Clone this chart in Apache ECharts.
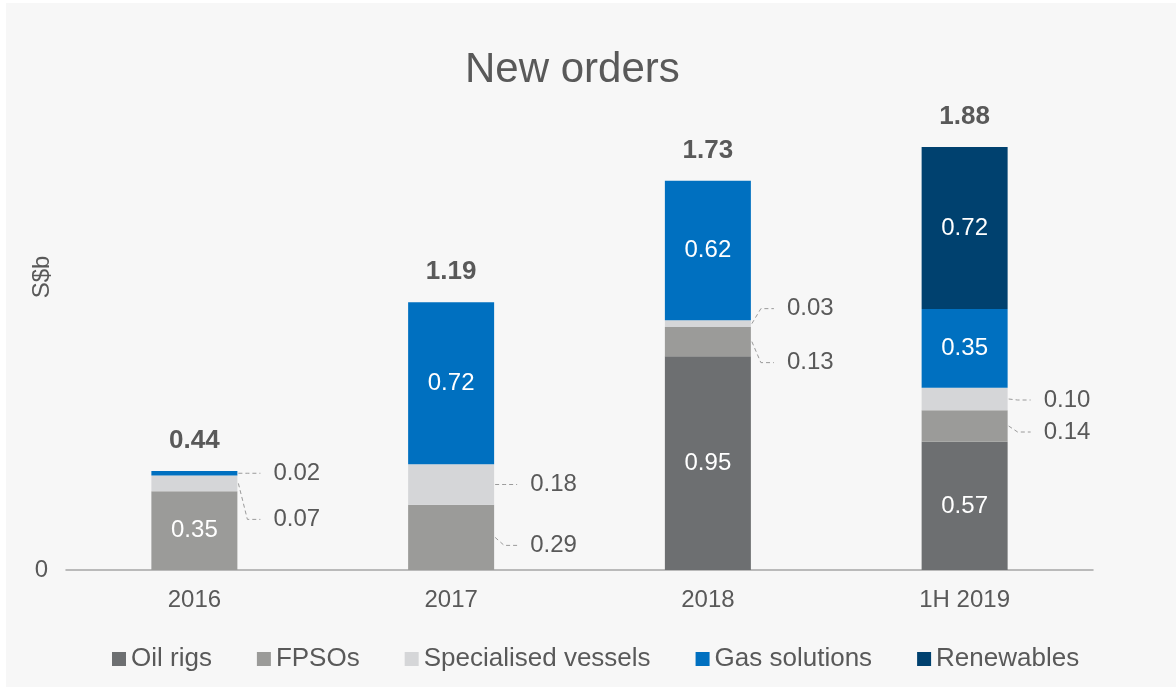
<!DOCTYPE html>
<html>
<head>
<meta charset="utf-8">
<script src="https://cdn.jsdelivr.net/npm/echarts@6/dist/echarts.min.js"></script>
<style>html,body{margin:0;padding:0;background:#fff;}#c{width:1176px;height:689px;}</style>
</head>
<body>
<div id="c"></div>
<script>
// ---- data ----
var categories = ['2016', '2017', '2018', '1H 2019'];
var seriesNames = ['Oil rigs', 'FPSOs', 'Specialised vessels', 'Gas solutions', 'Renewables'];
var oilRigs = [null, null, 0.95, 0.57];
var fpsos = [0.35, 0.29, 0.13, 0.14];
var specialisedVessels = [0.07, 0.18, 0.03, 0.10];
var gasSolutions = [0.02, 0.72, 0.62, 0.35];
var renewables = [null, null, null, 0.72];
var totals = [0.44, 1.19, 1.73, 1.88];

// ---- styling ----
var colors = ['#6d6f71', '#9b9b99', '#d5d6d8', '#0070c0', '#00416f'];
var textColor = '#595959';
var font = "'Liberation Sans', Arial, sans-serif";
var BAR_WIDTH = 86;
// vertical shift (px) of labels placed outside the bar; null = label inside
var outsideShift = [
  [null, null, null, null],
  [null, 8, 21, 6],
  [36, 0, -15, 1],
  [0, null, null, null],
  [null, null, null, null]
];
var allValues = [oilRigs, fpsos, specialisedVessels, gasSolutions, renewables];

function buildData(si) {
  return allValues[si].map(function (v, ci) {
    if (v == null) return '-';
    var inside = outsideShift[si][ci] == null;
    return { value: v, label: { show: inside } };
  });
}

var series = seriesNames.map(function (name, si) {
  return {
    name: name,
    type: 'bar',
    stack: 'orders',
    barWidth: BAR_WIDTH,
    barGap: '-100%',
    itemStyle: { color: colors[si] },
    label: {
      position: 'inside', color: '#fff',
      fontSize: 24, fontFamily: font,
      formatter: function (p) { return p.value.toFixed(2); }
    },
    emphasis: { disabled: true },
    data: buildData(si)
  };
});

// outside labels with dashed leader lines, positioned through the axes
var outsideItems = [];
for (var ci = 0; ci < categories.length; ci++) {
  var base = 0;
  for (var si = 0; si < allValues.length; si++) {
    var v = allValues[si][ci];
    if (v == null) continue;
    if (outsideShift[si][ci] != null) {
      outsideItems.push([ci, base, base + v, outsideShift[si][ci], v]);
    }
    base += v;
  }
}

series.push({
  name: 'outside labels',
  type: 'custom',
  silent: true,
  z: 5,
  data: outsideItems,
  renderItem: function (params, api) {
    var c = api.value(0), lo = api.value(1), hi = api.value(2), shift = api.value(3), val = api.value(4);
    var mid = api.coord([c, (lo + hi) / 2]);
    var right = mid[0] + BAR_WIDTH / 2;
    var ly = mid[1] + shift;
    return {
      type: 'group',
      children: [
        {
          type: 'polyline',
          shape: { points: [[right + 1, mid[1]], [right + 10, ly], [right + 23, ly]] },
          style: { stroke: '#9a9a9a', lineWidth: 1, lineDash: [4, 3], fill: null }
        },
        {
          type: 'text',
          x: right + 36, y: ly,
          style: {
            text: val.toFixed(2), fill: textColor, fontSize: 24, fontFamily: font,
            align: 'left', verticalAlign: 'middle'
          }
        }
      ]
    };
  }
});

series.push({
  name: 'Total',
  type: 'bar',
  stack: 'total',
  barWidth: BAR_WIDTH,
  barGap: '-100%',
  silent: true,
  z: 1,
  itemStyle: { color: 'rgba(0,0,0,0)' },
  label: {
    show: true, position: 'top', distance: 17,
    fontSize: 26, fontWeight: 'bold', color: textColor, fontFamily: font,
    formatter: function (p) { return p.value.toFixed(2); }
  },
  data: totals
});

var chart = echarts.init(document.getElementById('c'), null, { renderer: 'canvas' });
chart.setOption({
  backgroundColor: '#ffffff',
  animation: false,
  textStyle: { fontFamily: font },
  title: {
    text: 'New orders',
    left: 460, top: 44,
    textStyle: { fontSize: 42, fontWeight: 'normal', color: textColor, fontFamily: font }
  },
  graphic: [
    { type: 'rect', z: -10, silent: true, shape: { x: 6, y: 3, width: 1170, height: 684 }, style: { fill: '#f7f7f7' } },
    { type: 'text', x: 42, y: 277, rotation: Math.PI / 2, silent: true,
      style: { text: 'S$b', fontSize: 24, fill: textColor, fontFamily: font, align: 'center', verticalAlign: 'middle' } }
  ],
  legend: {
    data: seriesNames,
    left: 107, top: 641,
    icon: 'rect', itemWidth: 14, itemHeight: 14, itemGap: 45,
    selectedMode: false,
    textStyle: { fontSize: 26, color: textColor, fontFamily: font }
  },
  grid: { left: 66, right: 83, top: 120, bottom: 119, containLabel: false },
  xAxis: {
    type: 'category',
    data: categories,
    axisTick: { show: false },
    axisLine: { lineStyle: { color: '#a6a6a6', width: 1.5 } },
    axisLabel: { color: textColor, fontSize: 24, margin: 18, fontFamily: font }
  },
  yAxis: {
    type: 'value',
    min: 0, max: 2, interval: 2,
    splitLine: { show: false },
    axisLine: { show: false },
    axisTick: { show: false },
    axisLabel: {
      color: textColor, fontSize: 24, margin: 18, fontFamily: font,
      padding: [0, 0, 8, 0],
      formatter: function (v) { return v === 0 ? '0' : ''; }
    }
  },
  series: series
});
</script>
</body>
</html>
